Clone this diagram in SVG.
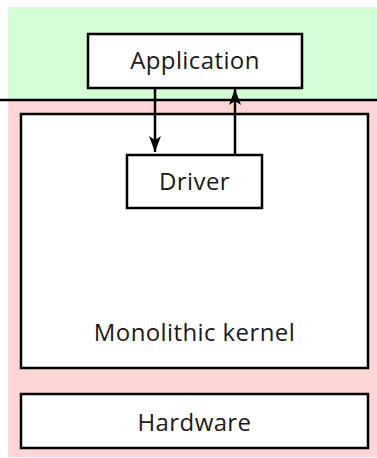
<svg xmlns="http://www.w3.org/2000/svg" width="377" height="458" viewBox="0 0 377 458">
<defs>
<style>
.box{fill:#fff;stroke:#000;stroke-width:2.5}
.lbl{font-family:"Open Sans","DejaVu Sans",sans-serif;font-size:24px;letter-spacing:0.4px;text-anchor:middle;fill:#1a1a1a}
.conn{stroke:#000;stroke-width:2.5;fill:none}
</style>
<marker id="ah" viewBox="0 0 16 12" refX="16" refY="6" markerWidth="16" markerHeight="12" markerUnits="userSpaceOnUse" orient="auto">
<path d="M0,0 L16,6 L0,12 L4,6 Z" fill="#000"/>
</marker>
</defs>
<rect x="8" y="7" width="369" height="93" fill="#d5fdd5"/>
<rect x="8" y="100" width="369" height="357" fill="#ffd5d5"/>
<line x1="0" y1="100" x2="377" y2="100" stroke="#000" stroke-width="2.5"/>
<g id="kernel">
<rect class="box" x="21" y="114" width="347" height="254"/>
<text class="lbl" x="194.5" y="341">Monolithic kernel</text>
</g>
<g id="hardware">
<rect class="box" x="21" y="394" width="347" height="54"/>
<text class="lbl" x="194.5" y="431">Hardware</text>
</g>
<g id="application">
<rect class="box" x="88" y="34" width="214" height="54"/>
<text class="lbl" x="195" y="69">Application</text>
</g>
<g id="driver">
<rect class="box" x="127" y="155" width="135" height="53"/>
<text class="lbl" x="194.5" y="190">Driver</text>
</g>
<g id="connectors">
<line class="conn" x1="155" y1="88" x2="155" y2="152" marker-end="url(#ah)"/>
<line class="conn" x1="235" y1="155" x2="235" y2="89" marker-end="url(#ah)"/>
</g>
</svg>
